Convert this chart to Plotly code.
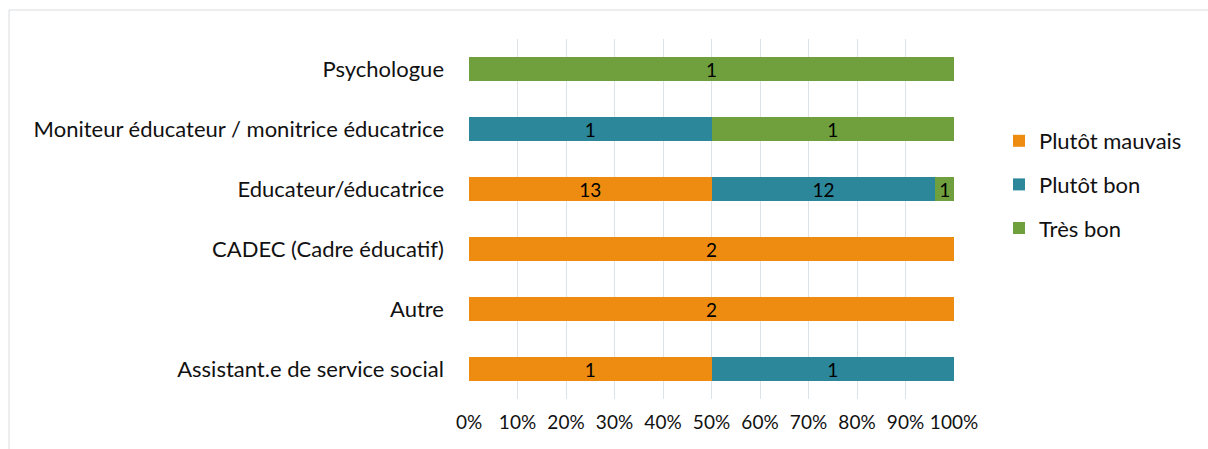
import plotly.graph_objects as go

# Job categories (bottom to top) and answer counts per category
categories = [
    "Assistant.e de service social",
    "Autre",
    "CADEC (Cadre éducatif)",
    "Educateur/éducatrice",
    "Moniteur éducateur / monitrice éducatrice",
    "Psychologue",
]
plutot_mauvais = [1, 2, 2, 13, 0, 0]
plutot_bon = [1, 0, 0, 12, 1, 0]
tres_bon = [0, 0, 0, 1, 1, 1]

series = [
    ("Plutôt mauvais", plutot_mauvais, "#EE8C12"),
    ("Plutôt bon", plutot_bon, "#2B8799"),
    ("Très bon", tres_bon, "#6FA03D"),
]

FONT = "Lato, 'Open Sans', sans-serif"

fig = go.Figure()
for name, vals, color in series:
    fig.add_trace(go.Bar(
        y=categories,
        x=vals,
        name=name,
        orientation="h",
        marker=dict(color=color, line=dict(width=0)),
        text=[str(v) if v else "" for v in vals],
        textposition="inside",
        insidetextanchor="middle",
        textangle=0,
        textfont=dict(color="black", size=19, family=FONT),
        constraintext="none",
        legendgroup=name,
        hoverinfo="skip",
    ))

W, H = 1208, 449
L, R, T, B = 469, 254, 39, 50
pw, ph = W - L - R, H - T - B

# Light frame lines (top and left) around the chart area
fx0 = (9 - L) / pw
fy1 = (H - B - 10) / ph
frame = dict(color="#D9DCDF", width=1)
fig.add_shape(type="line", xref="paper", yref="paper",
              x0=fx0, x1=(W - L) / pw, y0=fy1, y1=fy1, line=frame, layer="below")
fig.add_shape(type="line", xref="paper", yref="paper",
              x0=fx0, x1=fx0, y0=fy1, y1=-B / ph, line=frame, layer="below")

fig.update_layout(
    width=W, height=H,
    margin=dict(l=L, r=R, t=T, b=B, pad=0),
    barmode="stack",
    barnorm="percent",
    bargap=0.6,
    plot_bgcolor="white",
    paper_bgcolor="white",
    font=dict(family=FONT, size=22, color="#111111"),
    uniformtext=dict(minsize=19, mode="show"),
    xaxis=dict(
        range=[0, 100],
        tickvals=list(range(0, 101, 10)),
        ticktext=[f"{v}%" for v in range(0, 101, 10)],
        showgrid=True, gridcolor="#DDE2E6", gridwidth=1,
        zeroline=False, showline=False, ticks="",
        tickfont=dict(size=19),
        ticklabelstandoff=10,
        fixedrange=True,
    ),
    yaxis=dict(
        showgrid=False, zeroline=False, showline=False, ticks="",
        ticklabelstandoff=24,
        tickfont=dict(size=22),
        fixedrange=True,
    ),
    legend=dict(
        x=(999 - L) / pw, y=(H - B - 120) / ph, xanchor="left", yanchor="top",
        traceorder="grouped",
        tracegroupgap=12,
        font=dict(size=22),
        itemwidth=30,
        bgcolor="rgba(0,0,0,0)",
    ),
    showlegend=True,
)

fig.write_html("out.html")
